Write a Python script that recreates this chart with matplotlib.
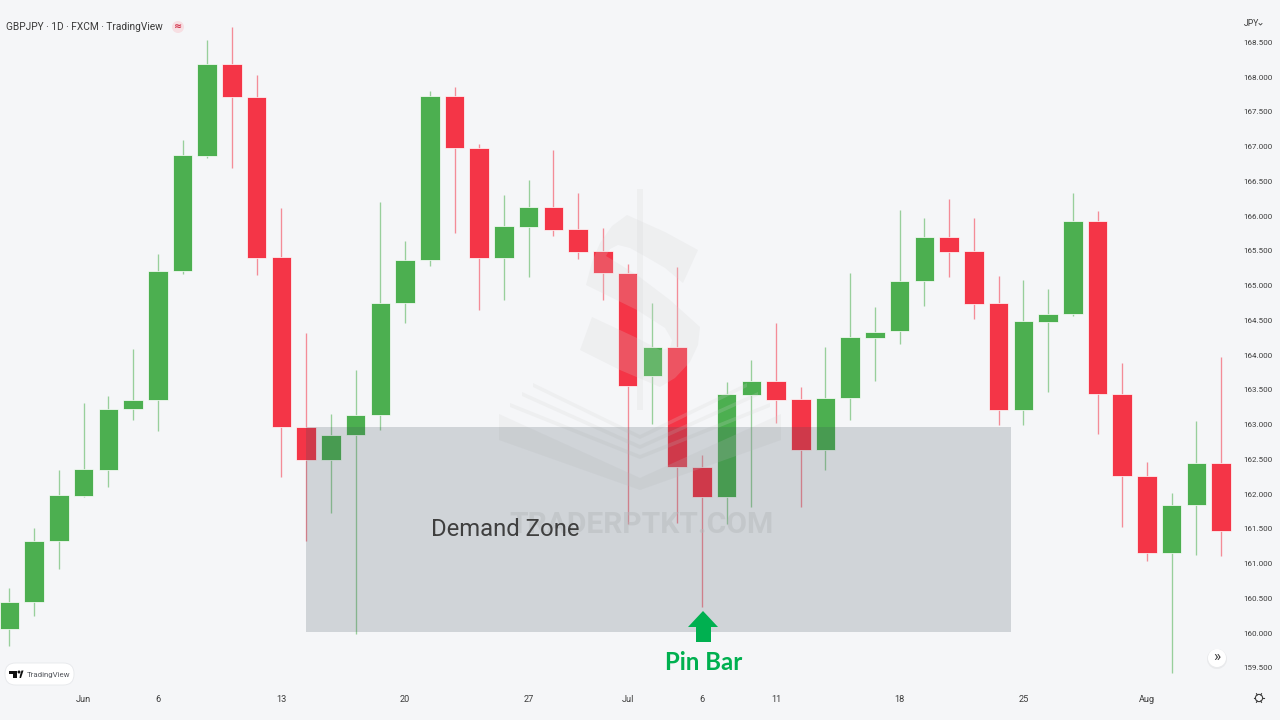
import numpy as np
import matplotlib
matplotlib.use('Agg')
import matplotlib.pyplot as plt
from matplotlib.patches import Polygon, Circle, FancyBboxPatch, Rectangle

# GBPJPY daily candles
opens = [160.06, 160.45, 161.32, 161.97, 162.35, 163.22, 163.35, 165.21, 166.86, 168.19,
         167.71, 165.41, 162.97, 162.49, 162.85, 163.14, 164.75, 165.37, 167.73, 166.98,
         165.40, 165.84, 166.13, 165.81, 165.50, 165.18, 163.70, 164.12, 162.39, 161.96,
         163.43, 163.63, 163.37, 162.63, 163.38, 164.25, 164.35, 165.07, 165.70, 165.50,
         164.75, 163.21, 164.48, 164.59, 165.93, 163.44, 162.26, 161.15, 161.84, 162.45]
closes = [160.45, 161.32, 161.99, 162.36, 163.22, 163.35, 165.21, 166.88, 168.19, 167.71,
          165.40, 162.97, 162.49, 162.85, 163.14, 164.75, 165.37, 167.73, 166.98, 165.40,
          165.86, 166.13, 165.80, 165.48, 165.18, 163.55, 164.12, 162.39, 161.96, 163.44,
          163.63, 163.35, 162.63, 163.38, 164.26, 164.33, 165.07, 165.70, 165.48, 164.74,
          163.21, 164.49, 164.59, 165.93, 163.44, 162.26, 161.15, 161.84, 162.45, 161.47]
highs = [160.65, 161.51, 162.35, 163.31, 163.41, 164.09, 165.45, 167.09, 168.53, 168.72,
         168.03, 166.12, 164.32, 163.15, 163.79, 166.20, 165.64, 167.80, 167.86, 167.04,
         166.30, 166.52, 166.95, 166.33, 165.83, 165.31, 164.75, 165.27, 162.56, 163.61,
         163.93, 164.46, 163.54, 164.12, 165.18, 164.69, 166.09, 165.97, 166.25, 165.97,
         165.14, 165.08, 164.95, 166.33, 166.07, 163.89, 162.46, 162.02, 163.05, 163.97]
lows = [159.81, 160.25, 160.92, 161.96, 162.10, 163.07, 162.91, 165.17, 166.84, 166.69,
        165.15, 162.25, 161.32, 161.73, 159.99, 162.92, 164.46, 165.28, 165.76, 164.65,
        164.79, 165.12, 165.71, 165.38, 164.79, 161.57, 163.01, 161.58, 160.38, 161.57,
        161.81, 163.02, 161.81, 162.35, 163.07, 163.63, 164.16, 164.71, 165.12, 164.52,
        162.99, 162.99, 163.47, 164.56, 162.86, 161.53, 161.04, 159.43, 161.12, 161.11]

price_ticks = [159.5, 160.0, 160.5, 161.0, 161.5, 162.0, 162.5, 163.0, 163.5, 164.0, 164.5,
               165.0, 165.5, 166.0, 166.5, 167.0, 167.5, 168.0, 168.5]
date_pos = [3, 6, 11, 16, 21, 25, 28, 31, 36, 41, 46]
date_labels = ['Jun', '6', '13', '20', '27', 'Jul', '6', '11', '18', '25', 'Aug']

zone_top = 162.97
zone_bottom = 160.02
zone_start = 12
zone_end = 40.52

BG = '#f5f6f8'
GREEN = '#4caf50'
RED = '#f43547'
WATER = '#d3d3d3'
TEXT = '#3f3f3f'

plt.rcParams['font.family'] = ['Roboto', 'DejaVu Sans']

fig = plt.figure(figsize=(12.8, 7.2), dpi=100, facecolor=BG)
ax = fig.add_axes([0, 32 / 720, 1236 / 1280, 688 / 720], facecolor=BG)
ax.set_xlim(-0.38, 49.60)
ax.set_ylim(159.21, 169.109)

# overlay in picture pixels for the watermark and the interface bits
ui = fig.add_axes([0, 0, 1, 1], zorder=5)
ui.set_xlim(0, 1280)
ui.set_ylim(720, 0)
ui.axis('off')
ui.patch.set_alpha(0)

idx = np.arange(len(opens))
opens = np.array(opens)
closes = np.array(closes)
up = closes >= opens
colors = np.where(up, GREEN, RED)

for i in idx:
    ax.vlines(i, lows[i], highs[i], color=colors[i], alpha=0.55, lw=0.95, zorder=2)
ax.bar(idx, np.abs(closes - opens), bottom=np.minimum(opens, closes), width=0.79,
       color=colors, edgecolor='#ffffff', linewidth=0.5, zorder=3)

# watermark sits above the candles and below the zone
wm = dict(facecolor=WATER, edgecolor='none', alpha=0.2, zorder=4, transform=ui.transData)
s_shape = [(627, 215), (665, 232), (698, 250), (683, 283), (665, 268), (648, 258), (630, 248), (618, 245),
           (610, 249), (606, 256), (637, 275), (670, 300), (700, 327), (698, 345), (690, 362), (675, 378),
           (660, 387), (620, 370), (580, 350), (592, 317), (637, 338), (660, 350), (670, 348), (672, 340),
           (665, 328), (637, 310), (586, 285), (592, 262), (600, 243), (612, 226)]
ax.add_patch(Polygon(s_shape, **wm))
ax.add_patch(Rectangle((637, 189), 6, 221, **wm))
roof = [(499, 414), (640, 478), (781, 414), (781, 440), (640, 490), (499, 440)]
ax.add_patch(Polygon(roof, **wm))
for lx, ly, my in [(533, 383, 435), (522, 392, 445), (510, 403, 455)]:
    stripe = [(lx, ly), (640, my), (1280 - lx, ly), (1280 - lx, ly + 4), (640, my + 4), (lx, ly + 4)]
    ax.add_patch(Polygon(stripe, **wm))
ax.text(641, 525, 'TRADERPTKT.COM', transform=ui.transData, ha='center', va='center',
        fontsize=21.6, fontweight='bold', color=WATER, alpha=0.45, zorder=4)

ax.add_patch(Rectangle((zone_start, zone_bottom), zone_end - zone_start, zone_top - zone_bottom,
                       facecolor='#3c4c58', edgecolor='none', alpha=0.2, zorder=6))

for sp in ax.spines.values():
    sp.set_visible(False)
ax.yaxis.tick_right()
ax.set_yticks(price_ticks)
ax.set_yticklabels(['%.3f' % p for p in price_ticks])
ax.set_xticks(date_pos)
ax.set_xticklabels(date_labels)
ax.tick_params(axis='y', length=0, pad=5.5, labelsize=5.8, labelcolor='#3c3c3c')
ax.tick_params(axis='x', length=0, pad=4.8, labelsize=6.6, labelcolor='#3c3c3c')

# header
ui.text(6, 27, 'GBPJPY · 1D · FXCM · TradingView', ha='left', va='center', fontsize=7.25, color='#3a3a3a')
ui.add_patch(Circle((178, 27), 6, facecolor='#f7dfe3', edgecolor='none'))
ui.text(178, 27, '≈', ha='center', va='center', fontsize=7, color='#d2324a', fontweight='bold',
        family=['DejaVu Sans'])
ui.text(1244, 24, 'JPY', ha='left', va='center', fontsize=6.2, color='#3c3c3c')
ui.plot([1259, 1260.5, 1262], [23.5, 25, 23.5], color='#3c3c3c', lw=0.6)

# annotations
ui.text(505, 530, 'Demand Zone', ha='center', va='center', fontsize=17.2, color=TEXT)
ui.add_patch(Polygon([(703, 611), (718, 627), (711, 627), (711, 642), (696, 642), (696, 627), (688, 627)],
                     facecolor='#00b050', edgecolor='none'))
ui.text(703.5, 662, 'Pin Bar', ha='center', va='center', fontsize=17.3, color='#00b050', family=['Lato'],
        fontweight='bold')

# TradingView badge
ui.add_patch(FancyBboxPatch((5, 663), 69, 22, boxstyle='round,pad=0,rounding_size=10.5',
                            facecolor='#ffffff', edgecolor='#e6e8eb', linewidth=0.6))
ui.add_patch(Polygon([(9, 670.5), (17, 670.5), (17, 678), (13, 678), (13, 674), (9, 674)],
                     facecolor='#111111', edgecolor='none'))
ui.add_patch(Circle((19, 672), 1.5, facecolor='#111111', edgecolor='none'))
ui.add_patch(Polygon([(19.5, 678), (20, 675), (21.5, 670.5), (23.5, 670.5), (21, 678)],
                     facecolor='#111111', edgecolor='none'))
ui.text(27, 674.5, 'TradingView', ha='left', va='center', fontsize=5.7, color='#55585e')

# scroll button and settings gear
ui.add_patch(Circle((1217, 659), 10, facecolor='#e9eaec', edgecolor='none'))
ui.add_patch(Circle((1217, 658), 9, facecolor='#ffffff', edgecolor='none'))
ui.text(1217, 657, '»', ha='center', va='center', fontsize=11, color='#3c3c3c')
ui.add_patch(Circle((1259, 698), 3.6, facecolor='none', edgecolor='#3c3c3c', linewidth=0.8))
for a in np.arange(0, 360, 60):
    ui.plot([1259 + 3.6 * np.cos(np.radians(a)), 1259 + 5 * np.cos(np.radians(a))],
            [698 + 3.6 * np.sin(np.radians(a)), 698 + 5 * np.sin(np.radians(a))],
            color='#3c3c3c', lw=0.8)

fig.savefig('out.png', dpi=100, facecolor=BG)
